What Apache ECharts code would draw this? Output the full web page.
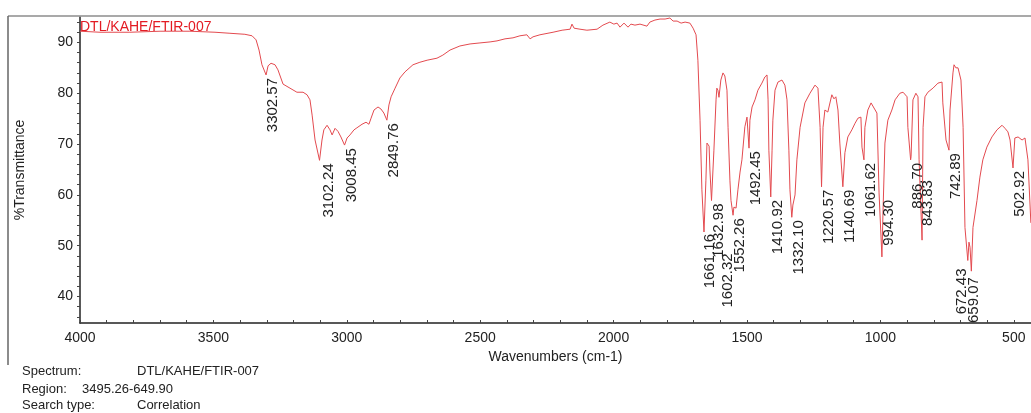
<!DOCTYPE html>
<html>
<head>
<meta charset="utf-8">
<script src="https://cdn.jsdelivr.net/npm/echarts@6/dist/echarts.min.js"></script>
<style>
  html, body { margin: 0; padding: 0; background: #fff; }
  #main { width: 1031px; height: 413px; }
</style>
</head>
<body>
<div id="main"></div>
<script>
// spectrum trace (cm-1 / %T)
var wavenumbers = [4000, 3925, 3813, 3700, 3588, 3494, 3438, 3382, 3355, 3340, 3329, 3318, 3302.57, 3295, 3284, 3269, 3258, 3239, 3213, 3187, 3164, 3149, 3138, 3130, 3119, 3102.24, 3093, 3086, 3074, 3063, 3055, 3044, 3033, 3022, 3008.45, 2999, 2988, 2973, 2962, 2943, 2928, 2917, 2909, 2898, 2883, 2872, 2861, 2849.76, 2842, 2834, 2819, 2801, 2782, 2752, 2726, 2699, 2662, 2640, 2613, 2576, 2538, 2501, 2463, 2437, 2407, 2377, 2351, 2325, 2313, 2302, 2276, 2227, 2193, 2163, 2156, 2148, 2126, 2100, 2062, 2040, 2014, 1999, 1987, 1976, 1961, 1946, 1935, 1920, 1901, 1875, 1864, 1845, 1826, 1807, 1789, 1777, 1762, 1747, 1732, 1714, 1702, 1691, 1684, 1676, 1669, 1661.16, 1654, 1650, 1642, 1639, 1632.98, 1624, 1616, 1613, 1609, 1605, 1602.32, 1598, 1590, 1583, 1575, 1571, 1564, 1560, 1552.26, 1549, 1541, 1534, 1526, 1519, 1508, 1500, 1492.45, 1489, 1481, 1470, 1459, 1444, 1433, 1425, 1421, 1418, 1410.92, 1406, 1403, 1395, 1384, 1369, 1358, 1350, 1343, 1339, 1332.10, 1328, 1320, 1313, 1301, 1283, 1264, 1245, 1234, 1226, 1220.57, 1215, 1208, 1197, 1182, 1174, 1167, 1159, 1152, 1140.69, 1133, 1122, 1107, 1095, 1084, 1073, 1069, 1061.62, 1058, 1047, 1035, 1028, 1013, 1005, 994.30, 990, 983, 972, 957, 945, 927, 915, 900, 897, 886.70, 885, 878, 867, 859, 855, 843.83, 840, 833, 822, 803, 784, 769, 766, 754, 742.89, 739, 728, 724, 717, 709, 698, 690, 683, 672.43, 668, 664, 659.07, 653, 638, 627, 616, 601, 582, 563, 544, 533, 522, 514, 502.92, 496, 484, 477, 469, 458, 447, 436];
var transmittance = [92.2, 92.0, 92.0, 92.2, 92.2, 92.0, 91.8, 91.6, 91.3, 90.5, 88.5, 85.6, 83.6, 85.4, 85.9, 85.6, 84.6, 81.8, 81.0, 80.2, 80.2, 79.7, 78.7, 75.7, 70.8, 66.8, 70.8, 72.8, 73.7, 72.8, 71.8, 73.1, 72.5, 71.4, 69.8, 71.2, 71.8, 72.8, 73.2, 73.9, 74.3, 73.9, 75.1, 76.7, 77.3, 76.9, 76.1, 74.7, 77.7, 79.3, 81.0, 83.0, 84.2, 85.6, 86.1, 86.5, 86.9, 87.5, 88.5, 89.3, 89.7, 89.9, 90.1, 90.3, 90.7, 90.9, 91.3, 91.5, 90.7, 91.1, 91.5, 92.0, 92.4, 92.6, 93.6, 92.8, 92.6, 92.4, 92.6, 93.4, 94.0, 93.6, 93.8, 93.0, 93.8, 93.0, 93.6, 93.4, 93.6, 93.2, 94.0, 94.4, 94.6, 94.6, 94.8, 94.2, 94.2, 93.8, 94.0, 93.8, 92.8, 91.5, 86.5, 74.7, 61.0, 52.7, 62.9, 70.2, 69.6, 64.9, 58.9, 68.8, 78.7, 81.0, 80.6, 79.2, 79.0, 82.6, 84.0, 83.4, 80.6, 73.3, 62.9, 58.9, 56.0, 57.6, 57.4, 61.0, 64.5, 66.9, 73.4, 75.3, 69.2, 74.7, 77.3, 78.7, 80.6, 82.0, 83.2, 83.6, 78.7, 68.8, 59.6, 68.8, 74.7, 80.6, 82.2, 82.6, 81.6, 78.7, 68.8, 61.0, 55.6, 58.0, 60.0, 66.9, 73.3, 78.1, 80.0, 81.6, 81.0, 73.3, 61.6, 73.3, 76.7, 76.3, 79.7, 78.9, 79.3, 76.7, 70.2, 61.6, 68.3, 71.4, 72.8, 74.1, 75.1, 75.3, 69.4, 66.9, 73.3, 76.7, 78.1, 78.1, 76.1, 60.4, 47.8, 57.0, 70.2, 74.7, 76.7, 78.7, 80.0, 80.2, 79.3, 73.3, 66.9, 67.5, 78.7, 80.0, 79.3, 66.9, 51.1, 73.3, 79.3, 80.2, 81.0, 82.0, 82.2, 78.1, 70.8, 68.8, 76.7, 84.0, 85.6, 85.0, 85.0, 82.6, 73.3, 53.6, 47.1, 50.7, 49.7, 45.0, 53.6, 58.9, 63.5, 66.9, 69.4, 71.4, 72.8, 73.7, 73.1, 72.4, 70.8, 65.3, 71.2, 71.4, 71.7, 70.8, 71.2, 66.9, 54.5];

// picked peaks
var peakWn = [3302.57, 3102.24, 3008.45, 2849.76, 1661.16, 1632.98, 1602.32, 1552.26, 1492.45, 1410.92, 1332.10, 1220.57, 1140.69, 1061.62, 994.30, 886.70, 843.83, 742.89, 672.43, 659.07, 502.92];
var peakT = [83.6, 66.8, 69.8, 74.7, 52.7, 58.9, 79.0, 56.0, 69.2, 59.6, 55.6, 61.6, 61.6, 66.9, 47.8, 66.9, 51.1, 68.8, 47.1, 45.0, 65.3];

// tick labels
var xTicks = [4000, 3500, 3000, 2500, 2000, 1500, 1000, 500];
var yTicks = [40, 50, 60, 70, 80, 90];

var FONT = '"Liberation Sans", Arial, sans-serif';

// where a peak label is pushed away from its trough (px), default [7, 3]
var labelNudge = {
    '3102.24': [9, 3],
    '1661.16': [6, 2],
    '1602.32': [8, 155],
    '994.30': [7, -57],
    '843.83': [6, -60],
    '672.43': [-6, 8],
    '659.07': [3, 6]
};

var xMinor = [];
for (var v = 500; v <= 4000; v += 100) xMinor.push(v);
var yMinor = [];
for (var w = 36; w <= 94; w += 2) yMinor.push(w);

var curve = wavenumbers.map(function (x, i) { return [x, transmittance[i]]; });
var peaks = peakWn.map(function (x, i) { return [x, peakT[i]]; });

var myChart = echarts.init(document.getElementById('main'));

var option = {
    animation: false,
    backgroundColor: '#fff',
    grid: { left: 80, right: 0, top: 17, bottom: 90, outerBoundsMode: 'none' },
    xAxis: {
        type: 'value',
        inverse: true,
        min: 435.5,
        max: 4000,
        name: 'Wavenumbers (cm-1)',
        nameLocation: 'middle',
        nameGap: 26,
        nameTextStyle: { color: '#222', fontSize: 14, fontFamily: FONT },
        axisLine: { show: true, lineStyle: { color: '#222', width: 1.5 } },
        axisTick: { show: true, inside: true, length: 3, customValues: xMinor, lineStyle: { color: '#444' } },
        axisLabel: {
            customValues: xTicks, color: '#222', fontSize: 14, fontFamily: FONT, margin: 8,
            formatter: function (val) { return String(val); }
        },
        splitLine: { show: false }
    },
    yAxis: {
        type: 'value',
        min: 34.8,
        max: 95,
        name: '%Transmittance',
        nameLocation: 'middle',
        nameGap: 53,
        nameTextStyle: { color: '#222', fontSize: 14, fontFamily: FONT },
        axisLine: { show: true, lineStyle: { color: '#222', width: 1.5 } },
        axisTick: { show: true, length: 3, customValues: yMinor, lineStyle: { color: '#444' } },
        axisLabel: { customValues: yTicks, color: '#222', fontSize: 14, fontFamily: FONT, margin: 7 },
        splitLine: { show: false }
    },
    graphic: [
        { type: 'line', shape: { x1: 8, y1: 16, x2: 1031, y2: 16 }, style: { stroke: '#8c8c8c', lineWidth: 1.5 }, z: 10 },
        { type: 'line', shape: { x1: 8, y1: 16, x2: 8, y2: 365 }, style: { stroke: '#666', lineWidth: 1.5 }, z: 10 },
        { type: 'text', x: 80, y: 20, style: { text: 'DTL/KAHE/FTIR-007', fill: '#e31b23', font: '14px ' + FONT }, z: 10 },
        { type: 'text', x: 22, y: 365, style: { text: 'Spectrum:', fill: '#222', font: '13px ' + FONT } },
        { type: 'text', x: 137, y: 365, style: { text: 'DTL/KAHE/FTIR-007', fill: '#222', font: '13px ' + FONT } },
        { type: 'text', x: 22, y: 383, style: { text: 'Region:', fill: '#222', font: '13px ' + FONT } },
        { type: 'text', x: 82, y: 383, style: { text: '3495.26-649.90', fill: '#222', font: '13px ' + FONT } },
        { type: 'text', x: 22, y: 399, style: { text: 'Search type:', fill: '#222', font: '13px ' + FONT } },
        { type: 'text', x: 137, y: 399, style: { text: 'Correlation', fill: '#222', font: '13px ' + FONT } }
    ],
    series: [
        {
            name: 'DTL/KAHE/FTIR-007',
            type: 'line',
            data: curve,
            showSymbol: false,
            lineStyle: { color: '#e34a4f', width: 1 },
            z: 2
        },
        {
            name: 'peaks',
            type: 'custom',
            data: peaks,
            clip: false,
            z: 3,
            renderItem: function (params, api) {
                var wn = api.value(0);
                var p = api.coord([wn, api.value(1)]);
                var key = wn.toFixed(2);
                var n = labelNudge[key] || [7, 3];
                return {
                    type: 'text',
                    x: p[0] + n[0],
                    y: p[1] + n[1],
                    rotation: Math.PI / 2,
                    style: {
                        text: key,
                        fill: '#222',
                        font: '15px ' + FONT,
                        align: 'right',
                        verticalAlign: 'middle',
                        textAlign: 'right',
                        textVerticalAlign: 'middle'
                    }
                };
            }
        }
    ]
};

myChart.setOption(option);
</script>
</body>
</html>
